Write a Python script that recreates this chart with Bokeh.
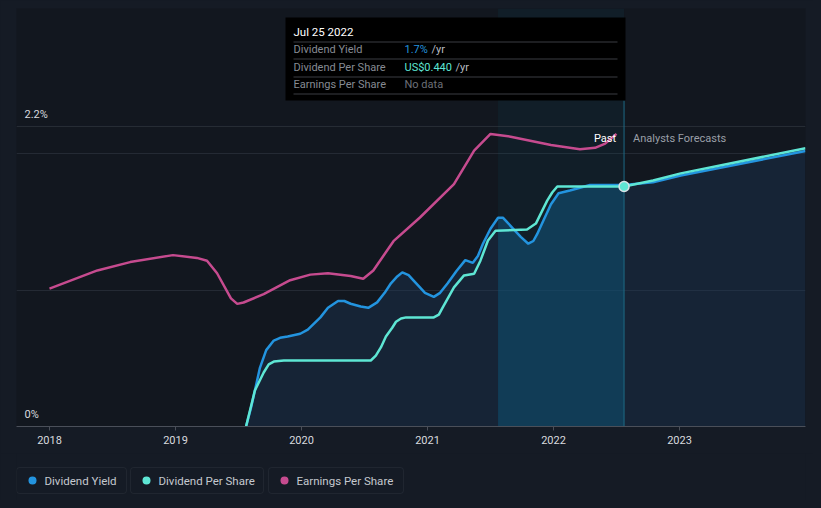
from bokeh.plotting import figure
from bokeh.models import Range1d, FixedTicker, BoxAnnotation, Label
from bokeh.layouts import column
from bokeh.embed import file_html
from bokeh.resources import INLINE
from bokeh.core.templates import get_env

# ---------------- data ----------------
yield_year = [2019.56, 2019.60, 2019.67, 2019.72, 2019.78, 2019.83, 2019.89, 2019.99, 2020.05,
              2020.15, 2020.21, 2020.29, 2020.34, 2020.39, 2020.47, 2020.53, 2020.60, 2020.66,
              2020.71, 2020.76, 2020.80, 2020.85, 2020.89, 2020.94, 2020.98, 2021.05, 2021.10,
              2021.16, 2021.23, 2021.30, 2021.36, 2021.40, 2021.44, 2021.50, 2021.56, 2021.60,
              2021.63, 2021.69, 2021.74, 2021.80, 2021.84, 2021.87, 2021.92, 2021.98, 2022.04,
              2022.13, 2022.29, 2022.56, 2022.79, 2023.01, 2024.00]
yield_pct = [0.00, 0.14, 0.43, 0.56, 0.63, 0.65, 0.66, 0.68, 0.71,
             0.80, 0.87, 0.92, 0.92, 0.90, 0.88, 0.87, 0.91, 0.98,
             1.05, 1.10, 1.13, 1.11, 1.07, 1.02, 0.98, 0.95, 0.98,
             1.05, 1.14, 1.22, 1.20, 1.25, 1.34, 1.45, 1.53, 1.53,
             1.50, 1.44, 1.39, 1.34, 1.36, 1.41, 1.51, 1.63, 1.71,
             1.73, 1.77, 1.77, 1.79, 1.84, 2.02]

dps_year = [2019.56, 2019.63, 2019.70, 2019.74, 2019.78, 2019.86, 2020.55, 2020.59, 2020.63,
            2020.67, 2020.72, 2020.75, 2020.79, 2020.83, 2021.05, 2021.09, 2021.12, 2021.21,
            2021.29, 2021.37, 2021.42, 2021.48, 2021.54, 2021.79, 2021.86, 2021.95, 2021.99,
            2022.03, 2022.07, 2022.56, 2022.79, 2023.01, 2024.00]
dps_usd = [0.000, 0.066, 0.099, 0.114, 0.119, 0.121, 0.121, 0.130, 0.145,
           0.165, 0.181, 0.192, 0.198, 0.200, 0.200, 0.205, 0.218, 0.255,
           0.277, 0.280, 0.304, 0.341, 0.359, 0.361, 0.372, 0.414, 0.429,
           0.440, 0.440, 0.440, 0.451, 0.464, 0.510]

eps_year = [2018.00, 2018.38, 2018.64, 2018.98, 2019.17, 2019.25, 2019.33, 2019.44, 2019.49,
            2019.54, 2019.70, 2019.91, 2020.07, 2020.21, 2020.39, 2020.49, 2020.57, 2020.73,
            2020.94, 2021.21, 2021.37, 2021.50, 2021.66, 2021.98, 2022.21, 2022.33, 2022.41,
            2022.50]
eps_usd = [0.99, 1.12, 1.18, 1.23, 1.21, 1.19, 1.10, 0.92, 0.88,
           0.89, 0.95, 1.05, 1.09, 1.10, 1.08, 1.06, 1.12, 1.33,
           1.50, 1.74, 1.98, 2.10, 2.08, 2.02, 1.99, 2.00, 2.03,
           2.10]

year_ticks = [2018, 2019, 2020, 2021, 2022, 2023]
y_label_values = [0.0, 2.2]
y_label_texts = ["0%", "2.2%"]
grid_values = [1.0, 2.0]

band_start = 2021.56
forecast_start = 2022.56
tooltip_date = "Jul 25 2022"
tooltip_rows = ["Dividend Yield", "Dividend Per Share", "Earnings Per Share"]
tooltip_values = ["1.7%", "US$0.440", "No data"]
legend_names = ["Dividend Yield", "Dividend Per Share", "Earnings Per Share"]

# ---------------- style ----------------
BG = "#151b25"
PLOT_BG = "#12171f"
BLUE = "#2394df"
TEAL = "#5ee6d4"
PINK = "#c64b8f"
FONT = "Roboto"

# geometry in page px
W = 813
MAIN_H = 453
LEG_H = 47
FR_L, FR_R, FR_T, FR_B = 16, 805, 8, 426
PX_PER_YEAR = 126.0
PX_PER_PCT = 136.4
X1 = 2024.0
X0 = X1 - (FR_R - FR_L) / PX_PER_YEAR
Y1 = (FR_B - FR_T) / PX_PER_PCT


def dx(px):
    return X0 + (px - FR_L) / PX_PER_YEAR


def dy(py):
    return (FR_B - py) / PX_PER_PCT


p = figure(width=W, height=MAIN_H, output_backend="svg", toolbar_location=None,
           x_range=Range1d(X0, X1), y_range=Range1d(0, Y1),
           y_axis_location=None, min_border_left=FR_L, min_border_right=W - FR_R,
           min_border_top=FR_T, min_border_bottom=MAIN_H - FR_B)
p.extra_y_ranges = {"dps": Range1d(0, (FR_B - FR_T) / 545.5),
                    "eps": Range1d(0, 3.0)}
p.background_fill_color = PLOT_BG
p.border_fill_color = BG
p.outline_line_color = None
p.xgrid.visible = False
p.ygrid.ticker = FixedTicker(ticks=grid_values)
p.ygrid.grid_line_color = "#242a34"
p.ygrid.grid_line_width = 1

ax = p.xaxis[0]
ax.ticker = FixedTicker(ticks=year_ticks)
ax.axis_line_color = "#4a4f59"
ax.major_tick_line_color = "#4a4f59"
ax.major_tick_out = 4
ax.major_tick_in = 0
ax.minor_tick_line_color = None
ax.major_label_text_color = "#d8dadf"
ax.major_label_text_font = FONT
ax.major_label_text_font_size = "11px"
ax.major_label_standoff = 5

# past-year highlight band
p.add_layout(BoxAnnotation(left=band_start, right=forecast_start, fill_color="#0f6a8a",
                           fill_alpha=0.09, line_color=None, level="underlay"))

# fill under dividend yield
p.varea(x=yield_year, y1=0, y2=yield_pct, fill_color="#1c3b5c", fill_alpha=0.38)
band_x = [x for x in yield_year if band_start <= x <= forecast_start]
band_y = [v for x, v in zip(yield_year, yield_pct) if band_start <= x <= forecast_start]
p.varea(x=band_x, y1=0, y2=band_y, fill_color="#0d5478", fill_alpha=0.45)

# top reference line at 2.2%
p.add_layout(BoxAnnotation(bottom=y_label_values[1], top=y_label_values[1],
                           line_color="#40454f", line_width=1, fill_alpha=0, level="underlay"))

# lines
p.line(eps_year, eps_usd, y_range_name="eps", line_color=PINK, line_width=2.5)
p.line(yield_year, yield_pct, line_color=BLUE, line_width=2.5)
p.line(dps_year, dps_usd, y_range_name="dps", line_color=TEAL, line_width=2.5)

# past / forecast divider
p.segment(x0=[forecast_start], y0=[0], x1=[forecast_start], y1=[dy(100)],
          line_color="#1e6a85", line_width=1)
dot_val = dps_usd[dps_year.index(forecast_start)]
p.scatter([forecast_start], [dot_val], y_range_name="dps", size=10,
          fill_color=TEAL, line_color="#d9e2e6", line_width=1.5)

# y labels
for v, t in zip(y_label_values, y_label_texts):
    p.add_layout(Label(x=dx(24), y=v, y_offset=12, text=t, text_font=FONT,
                       text_font_size="11px", text_color="#d8dadf", text_baseline="middle"))

p.add_layout(Label(x=forecast_start, y=y_label_values[1], x_offset=-8, y_offset=-12,
                   text="Past", text_align="right", text_baseline="middle",
                   text_font=FONT, text_font_size="11px", text_color="#ffffff"))
p.add_layout(Label(x=forecast_start, y=y_label_values[1], x_offset=9, y_offset=-12,
                   text="Analysts Forecasts", text_align="left", text_baseline="middle",
                   text_font=FONT, text_font_size="11px", text_color="#9a9fa7"))

# tooltip
p.add_layout(BoxAnnotation(left=dx(285), right=dx(625), top=dy(17), bottom=dy(100),
                           fill_color="#000000", fill_alpha=1.0, line_color=None))
for sep in [41, 58, 76, 93]:
    p.add_layout(BoxAnnotation(left=dx(293), right=dx(617), top=dy(sep), bottom=dy(sep + 1),
                               fill_color="#3a3d42", fill_alpha=1.0, line_color=None))
p.add_layout(Label(x=dx(293), y=dy(31), text=tooltip_date, text_font=FONT,
                   text_font_size="11.5px", text_color="#ffffff", text_baseline="middle"))
row_y = [49, 67, 84]
val_colors = [BLUE, TEAL, "#6c7078"]
unit_x = [431, 455, None]
for ry, name, val, col, ux in zip(row_y, tooltip_rows, tooltip_values, val_colors, unit_x):
    p.add_layout(Label(x=dx(293), y=dy(ry), text=name, text_font=FONT,
                       text_font_size="11px", text_color="#868b93", text_baseline="middle"))
    p.add_layout(Label(x=dx(404), y=dy(ry), text=val, text_font=FONT,
                       text_font_size="11px", text_color=col, text_baseline="middle"))
    if ux is not None:
        p.add_layout(Label(x=dx(ux), y=dy(ry), text="/yr", text_font=FONT,
                           text_font_size="11px", text_color="#b8bcc2", text_baseline="middle"))

# ---------------- legend strip (page px coordinates; frame aligned with main frame) ----------------
lg = figure(width=W, height=LEG_H, output_backend="svg", toolbar_location=None,
            x_range=Range1d(FR_L, FR_R), y_range=Range1d(MAIN_H + LEG_H, MAIN_H),
            x_axis_location=None, y_axis_location=None,
            min_border_left=FR_L, min_border_right=W - FR_R, min_border_top=0,
            min_border_bottom=0)
lg.background_fill_color = BG
lg.border_fill_color = BG
lg.outline_line_color = None
lg.xgrid.visible = False
lg.ygrid.visible = False

boxes = [(16, 126), (130, 263), (268, 403)]
colors = [BLUE, TEAL, PINK]
for (l, r), name, col in zip(boxes, legend_names, colors):
    lg.add_layout(BoxAnnotation(left=l, right=r, top=467, bottom=493, fill_alpha=0.0,
                                line_color="#3b414c", line_width=1, border_radius=3))
    lg.scatter([l + 16], [480], size=8, fill_color=col, line_color=None)
    lg.add_layout(Label(x=l + 28, y=480, text=name, text_font=FONT, text_font_size="11.5px",
                        text_color="#c5c9cf", text_baseline="middle"))

layout = column(p, lg, spacing=0)

# page background in the chart colour, so no seams show between canvases
PAGE_TEMPLATE = get_env().from_string(
    '{% extends "file.html" %}'
    '{% block preamble %}<style>html, body { background: ' + BG + '; }</style>{% endblock %}'
)
open("out.html", "w").write(file_html(layout, INLINE, template=PAGE_TEMPLATE))
